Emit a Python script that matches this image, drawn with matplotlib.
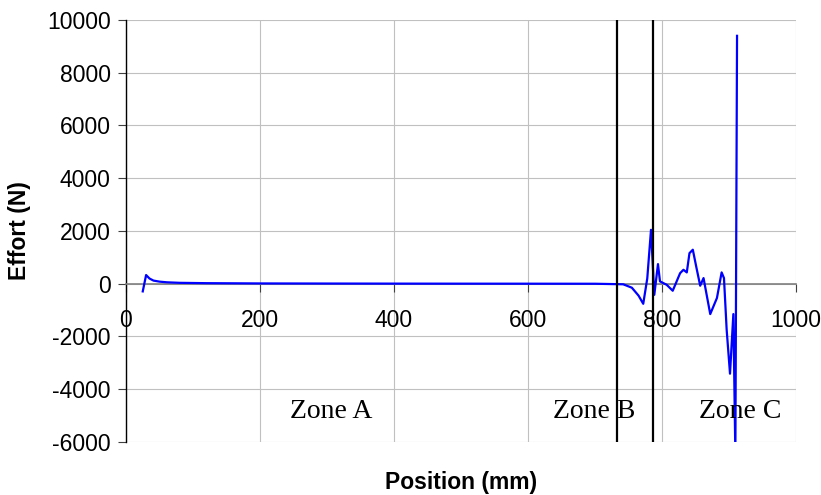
import matplotlib
matplotlib.use("Agg")
import matplotlib.pyplot as plt

position = [25, 30, 35, 41, 50, 61, 80, 120, 200, 300, 400, 500, 600, 700, 742,
            755, 765, 772, 778, 783.6, 788.5, 794, 797, 807, 816, 827, 832, 837,
            841, 846, 851, 857, 862, 872, 882, 889, 892.5, 896.5, 901.5, 906.5,
            909.5, 912]
effort = [-290, 330, 200, 120, 80, 55, 35, 22, 12, 8, 5, 3, 2, 0, -20,
          -150, -450, -760, 200, 2045, -420, 745, 90, -40, -265, 400, 530, 430,
          1160, 1290, 660, -75, 215, -1150, -540, 430, 215, -1740, -3410, -1150,
          -6500, 9400]

zone_bounds = [733, 787]
zone_labels = ["Zone A", "Zone B", "Zone C"]
zone_label_x = [306, 699, 916]
zone_label_y = [-4850, -4850, -4850]

xticks = [0, 200, 400, 600, 800, 1000]
yticks = [-6000, -4000, -2000, 0, 2000, 4000, 6000, 8000, 10000]

plt.rcParams['font.family'] = ['Liberation Sans', 'DejaVu Sans']
plt.rcParams['axes.unicode_minus'] = False
fig = plt.figure(figsize=(8.21, 4.95), dpi=100)
ax = fig.add_axes([126/821, 1 - 442/495, (796-126)/821, (442-20)/495])

ax.plot(position, effort, color='#0000ff', lw=1.6, zorder=3, clip_on=True)
for xb in zone_bounds:
    ax.axvline(xb, color='black', lw=1.6, zorder=4)

for lab, x, y in zip(zone_labels, zone_label_x, zone_label_y):
    ax.text(x, y, lab, ha='center', va='center', fontsize=20,
            family=['Liberation Serif', 'DejaVu Serif'], zorder=5)

ax.set_xlim(0, 1000)
ax.set_ylim(-6000, 10000)
ax.set_xticks(xticks)
ax.set_yticks(yticks)
ax.grid(True, color='#c0c0c0', lw=0.8, zorder=0)
ax.set_axisbelow(True)

ax.spines['top'].set_visible(False)
ax.spines['right'].set_visible(False)
ax.spines['bottom'].set_position(('data', 0))
ax.spines['bottom'].set_color('#808080')
ax.spines['bottom'].set_linewidth(1.2)
ax.spines['left'].set_color('black')
ax.spines['left'].set_linewidth(1.0)

ax.tick_params(axis='x', direction='out', length=6, color='#404040', labelsize=16.5, pad=12)
ax.tick_params(axis='y', direction='out', length=6, color='#404040', labelsize=16.5, pad=5)

ax.set_xlabel('Position (mm)', fontsize=16.5, fontweight='bold')
ax.xaxis.set_label_coords(0.5, (442 - 482) / 422)
ax.xaxis.label.set_va('center')
ax.set_ylabel('Effort (N)', fontsize=16.5, fontweight='bold')
ax.yaxis.set_label_coords((20 - 126) / 670, 0.5)
ax.yaxis.label.set_va('center')

fig.savefig('out.png', dpi=100)
